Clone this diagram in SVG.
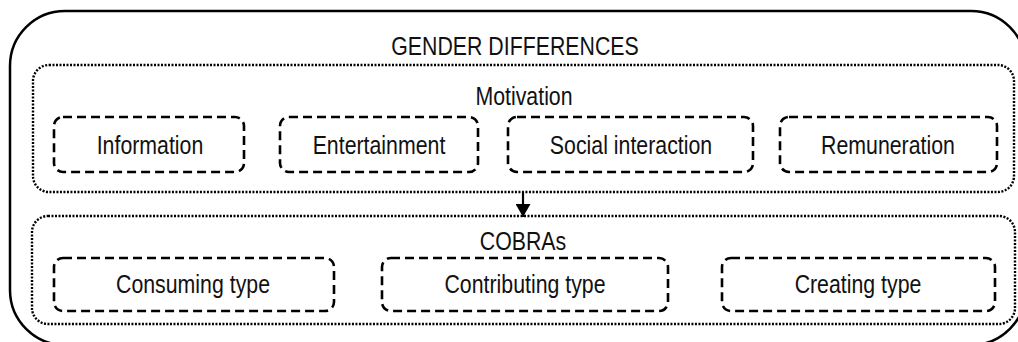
<svg xmlns="http://www.w3.org/2000/svg" width="1018" height="342" viewBox="0 0 1018 342">
<style>
.outer{fill:none;stroke:#000;stroke-width:2.5}
.group{fill:none;stroke:#000;stroke-width:2.4;stroke-dasharray:2 1.5}
.box{fill:none;stroke:#000;stroke-width:2.6;stroke-dasharray:9 5}
text{font-family:"Liberation Sans",Arial,sans-serif;font-size:26px;fill:#111;text-anchor:middle}
.conn{stroke:#000;stroke-width:2.2;fill:none}
</style>
<defs>
<marker id="arr" markerWidth="14" markerHeight="15" refX="13" refY="7.5" orient="auto" markerUnits="userSpaceOnUse" viewBox="0 0 14 15">
<path d="M0,0 L13,7.5 L0,15 Z" fill="#000"/>
</marker>
</defs>
<g id="gender">
<rect class="outer" x="10" y="11" width="1016" height="334" rx="55" ry="55"/>
<text transform="translate(515,55) scale(0.82,1)">GENDER DIFFERENCES</text>
</g>
<g id="motivation">
<rect class="group" x="33" y="65" width="981" height="127" rx="16" ry="16"/>
<text transform="translate(524,105) scale(0.82,1)">Motivation</text>
</g>
<g id="information">
<rect class="box" x="54" y="117" width="190" height="55" rx="9" ry="9"/>
<text transform="translate(150,154) scale(0.82,1)">Information</text>
</g>
<g id="entertainment">
<rect class="box" x="280" y="117" width="198" height="55" rx="9" ry="9"/>
<text transform="translate(379,154) scale(0.82,1)">Entertainment</text>
</g>
<g id="social">
<rect class="box" x="508" y="117" width="245" height="55" rx="9" ry="9"/>
<text transform="translate(631,154) scale(0.82,1)">Social interaction</text>
</g>
<g id="remuneration">
<rect class="box" x="780" y="117" width="217" height="55" rx="9" ry="9"/>
<text transform="translate(888,154) scale(0.82,1)">Remuneration</text>
</g>
<g id="cobras">
<rect class="group" x="32" y="216" width="983" height="108" rx="16" ry="16"/>
<text transform="translate(523,250) scale(0.82,1)">COBRAs</text>
</g>
<g id="consuming">
<rect class="box" x="54" y="258" width="280" height="53" rx="9" ry="9"/>
<text transform="translate(193,293) scale(0.82,1)">Consuming type</text>
</g>
<g id="contributing">
<rect class="box" x="382" y="258" width="286" height="53" rx="9" ry="9"/>
<text transform="translate(525,293) scale(0.82,1)">Contributing type</text>
</g>
<g id="creating">
<rect class="box" x="722" y="258" width="273" height="53" rx="9" ry="9"/>
<text transform="translate(858,293) scale(0.82,1)">Creating type</text>
</g>
<g id="connectors">
<line class="conn" x1="523" y1="192" x2="523" y2="217" marker-end="url(#arr)"/>
</g>
</svg>
